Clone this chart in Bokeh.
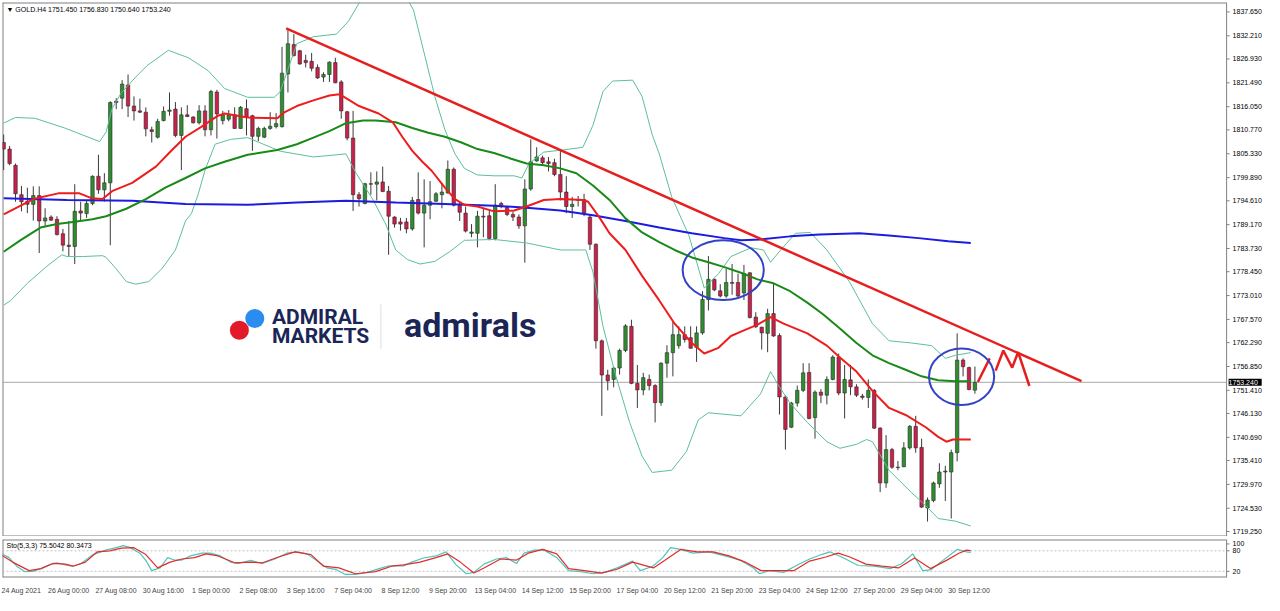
from bokeh.plotting import figure
from bokeh.layouts import column
from bokeh.models import Range1d, FixedTicker, Label, ColumnDataSource
from bokeh.core.properties import value
from bokeh.embed import file_html
from bokeh.resources import INLINE

symbol = "GOLD.H4"

opens = [1807.9, 1806.4, 1802.7, 1796.0, 1794.5, 1793.8, 1795.8, 1790.0, 1790.9, 1790.4,
         1787.1, 1784.5, 1784.2, 1792.3, 1791.7, 1794.0, 1800.2, 1797.1, 1798.7, 1817.3,
         1818.0, 1821.0, 1816.2, 1815.1, 1814.8, 1810.8, 1809.1, 1812.9, 1815.0, 1815.5,
         1809.5, 1814.2, 1813.7, 1812.4, 1815.1, 1810.8, 1819.4, 1812.9, 1813.2, 1814.2,
         1811.1, 1815.6, 1814.0, 1809.3, 1809.1, 1811.1, 1811.5, 1811.5, 1823.5, 1830.2,
         1828.8, 1826.6, 1826.4, 1825.0, 1822.8, 1823.4, 1826.1, 1821.7, 1814.9, 1808.9,
         1796.0, 1794.0, 1798.5, 1798.4, 1798.9, 1796.8, 1790.9, 1789.8, 1789.8, 1788.2,
         1794.9, 1791.8, 1793.6, 1794.5, 1796.0, 1796.4, 1801.8, 1793.6, 1791.8, 1787.2,
         1787.2, 1791.1, 1791.2, 1786.0, 1794.0, 1793.1, 1791.5, 1790.9, 1788.9, 1797.3,
         1803.7, 1804.4, 1803.5, 1803.3, 1800.6, 1796.6, 1793.3, 1794.7, 1794.9, 1790.9,
         1784.7, 1762.7, 1754.9, 1753.9, 1756.5, 1760.5, 1766.0, 1753.0, 1751.5, 1753.9,
         1752.5, 1748.6, 1757.6, 1760.0, 1761.6, 1764.1, 1763.4, 1761.2, 1764.5, 1772.1,
         1776.7, 1774.1, 1772.9, 1776.0, 1776.0, 1773.6, 1778.2, 1768.1, 1765.8, 1764.4,
         1768.9, 1763.9, 1749.9, 1743.0, 1748.5, 1751.4, 1755.5, 1745.2, 1751.0, 1750.3,
         1753.9, 1759.0, 1750.8, 1753.8, 1752.2, 1750.1, 1749.8, 1751.4, 1742.8, 1730.3,
         1737.9, 1733.9, 1734.0, 1738.3, 1743.2, 1738.4, 1724.6, 1726.3, 1730.1, 1732.8,
         1732.8, 1737.2, 1758.3, 1756.6, 1751.45]
highs = [1809.7, 1807.1, 1803.1, 1798.0, 1797.6, 1797.9, 1797.9, 1792.9, 1791.3, 1791.1,
         1788.2, 1790.0, 1798.4, 1794.4, 1794.7, 1800.4, 1805.1, 1800.9, 1817.3, 1818.0,
         1822.1, 1823.4, 1818.4, 1817.9, 1815.9, 1811.5, 1813.3, 1816.1, 1819.3, 1817.1,
         1815.9, 1816.4, 1813.9, 1816.4, 1816.4, 1819.9, 1819.9, 1815.1, 1815.3, 1815.9,
         1816.2, 1817.7, 1814.2, 1811.5, 1811.5, 1814.8, 1814.6, 1829.7, 1833.7, 1832.6,
         1829.0, 1827.9, 1828.3, 1825.7, 1823.9, 1826.4, 1827.2, 1822.1, 1815.1, 1815.1,
         1796.6, 1798.7, 1801.1, 1801.3, 1802.4, 1798.0, 1791.1, 1790.7, 1790.7, 1795.5,
         1801.1, 1799.5, 1799.1, 1796.6, 1798.7, 1803.8, 1802.2, 1794.4, 1793.3, 1789.3,
         1792.3, 1792.9, 1792.3, 1798.4, 1794.4, 1793.5, 1792.2, 1791.5, 1799.5, 1808.6,
         1806.8, 1804.9, 1804.6, 1804.2, 1806.4, 1800.2, 1795.5, 1795.7, 1796.2, 1791.5,
         1784.9, 1763.0, 1756.1, 1756.8, 1760.9, 1766.5, 1767.5, 1757.2, 1755.4, 1755.0,
         1752.8, 1757.8, 1761.7, 1767.0, 1766.0, 1766.0, 1766.0, 1766.0, 1774.0, 1782.0,
         1776.9, 1775.6, 1779.1, 1780.2, 1778.0, 1780.0, 1778.3, 1769.2, 1765.9, 1770.0,
         1775.8, 1764.4, 1750.3, 1748.8, 1752.5, 1757.6, 1757.6, 1751.4, 1751.7, 1754.6,
         1759.4, 1759.8, 1757.2, 1757.2, 1752.8, 1750.6, 1753.9, 1751.7, 1743.0, 1741.2,
         1738.3, 1735.3, 1739.6, 1743.5, 1745.6, 1740.4, 1727.0, 1730.6, 1734.8, 1734.2,
         1737.9, 1764.4, 1758.7, 1756.8, 1756.83]
lows = [1801.6, 1802.7, 1794.4, 1792.2, 1791.8, 1790.1, 1782.7, 1788.9, 1790.0, 1786.7,
        1783.1, 1782.0, 1780.2, 1790.0, 1790.7, 1793.6, 1796.2, 1794.4, 1784.5, 1815.5,
        1815.5, 1813.7, 1812.9, 1814.6, 1809.3, 1807.9, 1808.8, 1812.7, 1814.0, 1809.1,
        1801.6, 1813.7, 1812.2, 1812.0, 1809.3, 1809.5, 1808.8, 1812.0, 1812.7, 1811.0,
        1811.0, 1809.5, 1806.0, 1808.2, 1808.9, 1810.8, 1811.1, 1811.3, 1819.3, 1827.5,
        1825.6, 1825.0, 1824.1, 1822.4, 1821.7, 1821.7, 1821.4, 1813.3, 1808.4, 1792.3,
        1793.3, 1793.8, 1796.0, 1794.7, 1796.6, 1782.3, 1788.5, 1787.8, 1787.2, 1787.8,
        1791.5, 1784.0, 1790.4, 1794.4, 1792.9, 1796.2, 1793.3, 1790.0, 1787.4, 1786.3,
        1784.0, 1786.3, 1785.6, 1785.6, 1792.9, 1791.1, 1790.0, 1788.2, 1780.5, 1796.9,
        1803.5, 1802.7, 1801.3, 1800.2, 1794.7, 1791.8, 1790.7, 1793.3, 1791.1, 1783.4,
        1760.9, 1745.6, 1751.4, 1752.1, 1755.0, 1760.1, 1752.8, 1747.4, 1750.3, 1751.4,
        1744.1, 1747.9, 1754.3, 1754.6, 1760.9, 1762.3, 1760.9, 1757.9, 1764.1, 1769.6,
        1774.0, 1772.6, 1772.5, 1773.2, 1772.5, 1772.0, 1767.8, 1765.6, 1760.7, 1760.1,
        1763.6, 1745.9, 1737.9, 1742.8, 1747.7, 1751.0, 1744.8, 1740.4, 1748.5, 1748.2,
        1753.7, 1750.3, 1745.0, 1750.3, 1749.9, 1749.3, 1747.4, 1742.6, 1728.2, 1729.2,
        1733.5, 1733.2, 1733.9, 1737.9, 1737.2, 1724.6, 1721.5, 1725.9, 1729.2, 1726.2,
        1722.2, 1735.2, 1754.6, 1751.4, 1750.64]
closes = [1806.4, 1803.1, 1796.2, 1794.4, 1793.8, 1795.8, 1790.0, 1790.7, 1790.2, 1786.9,
          1784.5, 1784.2, 1792.2, 1791.8, 1794.0, 1800.2, 1797.1, 1798.7, 1817.0, 1817.0,
          1821.2, 1816.2, 1815.1, 1814.8, 1811.0, 1810.4, 1812.7, 1815.0, 1815.3, 1809.5,
          1814.2, 1813.8, 1812.4, 1815.1, 1810.8, 1819.5, 1814.4, 1814.2, 1814.2, 1811.1,
          1815.9, 1813.7, 1809.3, 1811.1, 1811.1, 1811.6, 1812.2, 1823.7, 1830.4, 1827.7,
          1825.8, 1826.1, 1824.8, 1822.6, 1823.4, 1826.2, 1821.5, 1815.1, 1808.9, 1796.0,
          1795.1, 1798.5, 1798.4, 1798.9, 1796.7, 1791.1, 1789.3, 1789.3, 1788.2, 1794.7,
          1791.8, 1793.6, 1794.4, 1796.2, 1796.6, 1801.8, 1793.6, 1792.0, 1787.7, 1787.5,
          1791.1, 1790.9, 1786.0, 1793.6, 1793.3, 1791.5, 1790.9, 1788.9, 1797.3, 1803.5,
          1804.6, 1803.3, 1803.1, 1800.6, 1796.6, 1793.3, 1793.8, 1794.9, 1791.8, 1784.7,
          1762.7, 1754.9, 1753.6, 1756.5, 1760.5, 1766.1, 1753.0, 1751.5, 1754.3, 1752.5,
          1748.6, 1757.6, 1760.0, 1764.1, 1764.1, 1763.0, 1761.0, 1764.5, 1772.1, 1776.7,
          1774.3, 1772.9, 1776.0, 1775.8, 1772.9, 1778.0, 1768.0, 1765.9, 1764.5, 1768.9,
          1763.8, 1749.9, 1742.5, 1748.5, 1751.4, 1755.4, 1745.0, 1751.0, 1750.3, 1753.9,
          1759.0, 1750.8, 1753.9, 1752.2, 1750.3, 1749.8, 1751.4, 1742.8, 1730.3, 1737.9,
          1733.9, 1733.8, 1738.3, 1743.2, 1738.3, 1724.8, 1726.4, 1730.3, 1732.8, 1733.0,
          1737.2, 1758.3, 1756.8, 1751.6, 1753.24]

x_tick_labels = ["24 Aug 2021", "26 Aug 00:00", "27 Aug 08:00", "30 Aug 16:00", "1 Sep 00:00",
                 "2 Sep 08:00", "3 Sep 16:00", "7 Sep 04:00", "8 Sep 12:00", "9 Sep 20:00",
                 "13 Sep 04:00", "14 Sep 12:00", "15 Sep 20:00", "17 Sep 04:00", "20 Sep 12:00",
                 "21 Sep 20:00", "23 Sep 04:00", "24 Sep 12:00", "27 Sep 20:00", "29 Sep 04:00",
                 "30 Sep 12:00"]
y_tick_values = [1837.650, 1832.210, 1826.930, 1821.490, 1816.050, 1810.770, 1805.330, 1799.890,
                 1794.610, 1789.170, 1783.730, 1778.450, 1773.010, 1767.570, 1762.290, 1756.850,
                 1751.410, 1746.130, 1740.690, 1735.410, 1729.970, 1724.530, 1719.250]
sto_tick_values = [100, 80, 20]

# moving averages (bar position, price)
ma_fast_x = [0, 5.0, 9.2, 12.8, 14.8, 16.7, 18.3, 21.7, 25.7, 28.3, 30.7, 33.3, 36.2, 37.3, 41.2,
             46.2, 47.3, 49.5, 52.3, 55.0, 56.7, 57.8, 60.0, 63.3, 65.7, 67.3, 69.0, 70.7, 72.3, 74.5,
             76.2, 77.8, 80.0, 82.8, 86.2, 88.3, 91.2, 94.0, 97.8, 98.7, 100.7, 102.3, 105.0, 107.8,
             110.7, 113.3, 116.2, 118.3, 120.7, 122.8, 124.5, 127.3, 129.5, 131.7, 135.7, 139.0,
             141.2, 144.0, 146.7, 149.5, 152.3, 155.7, 157.8, 159.2, 160.3, 163.3]
ma_fast_y = [1791.5, 1795.0, 1796.3, 1796.3, 1795.2, 1795.0, 1796.8, 1798.7, 1802.4, 1806.0,
             1809.2, 1811.4, 1814.0, 1814.5, 1813.6, 1813.4, 1814.7, 1816.2, 1817.5, 1818.6,
             1818.9, 1818.0, 1816.2, 1814.5, 1812.5, 1809.2, 1806.0, 1803.5, 1801.4, 1797.6,
             1795.0, 1793.7, 1793.3, 1792.2, 1792.4, 1793.3, 1794.8, 1795.0, 1794.8, 1794.4,
             1790.6, 1787.2, 1783.4, 1777.5, 1771.9, 1766.6, 1762.2, 1759.8, 1761.1, 1763.8,
             1764.8, 1766.4, 1768.1, 1766.6, 1764.4, 1761.6, 1758.9, 1755.7, 1751.3, 1747.4,
             1745.8, 1743.0, 1740.8, 1739.7, 1740.2, 1740.2]
ma_mid_x = [0, 2.8, 6.2, 9.0, 11.7, 15.0, 17.3, 20.7, 24.0, 27.3, 30.7, 34.0, 37.3, 41.2, 46.2,
            49.5, 52.3, 55.0, 57.8, 60.7, 62.8, 66.2, 69.0, 71.7, 74.5, 77.3, 80.0, 82.8, 85.7,
            88.3, 91.2, 94.0, 96.7, 99.5, 102.3, 105.0, 107.8, 110.7, 113.3, 116.2, 119.0, 121.7,
            124.5, 127.3, 130.0, 132.8, 135.7, 138.3, 141.2, 144.0, 146.7, 149.5, 152.3, 155.0,
            157.8, 160.7, 163.3]
ma_mid_y = [1783.0, 1785.6, 1788.5, 1789.3, 1789.8, 1790.4, 1791.1, 1792.8, 1795.0, 1797.6,
            1799.8, 1802.0, 1803.5, 1805.1, 1806.2, 1807.5, 1809.0, 1810.5, 1812.3, 1812.9,
            1812.9, 1812.5, 1811.2, 1810.1, 1809.2, 1807.9, 1806.4, 1805.5, 1804.2, 1803.1,
            1802.7, 1802.0, 1800.9, 1798.1, 1794.8, 1790.6, 1787.4, 1785.2, 1783.4, 1781.7,
            1780.6, 1779.5, 1778.2, 1776.7, 1775.8, 1774.0, 1771.4, 1768.8, 1765.5, 1762.2,
            1759.4, 1757.6, 1756.1, 1754.6, 1753.7, 1753.5, 1753.5]
ma_slow_x = [0, 10.7, 21.7, 30.7, 41.2, 49.5, 57.8, 66.2, 74.5, 82.8, 88.3, 94.0, 99.5, 105.0,
             110.7, 116.2, 121.7, 124.5, 127.8, 132.8, 137.8, 144.5, 149.5, 154.5, 159.5, 163.3]
ma_slow_y = [1795.2, 1794.8, 1794.6, 1793.9, 1793.7, 1794.2, 1794.6, 1794.2, 1793.9, 1793.5,
             1793.0, 1792.4, 1791.3, 1790.0, 1788.5, 1787.2, 1786.1, 1785.6, 1785.8, 1786.5,
             1786.9, 1787.2, 1786.7, 1786.1, 1785.4, 1785.0]

# Bollinger bands
bb_upper_x = [0, 2.0, 5.3, 10.3, 16.2, 17.3, 18.3, 19.8, 22.3, 24.2, 27.8, 31.2, 34.5, 37.3, 41.2,
              45.7, 46.7, 49.5, 52.3, 56.2, 58.2, 60.3, 62.8, 65.3, 67.8, 69.2, 71.2, 72.8, 74.5,
              76.2, 77.8, 80.0, 82.8, 86.2, 87.5, 88.7, 91.2, 94.5, 97.8, 99.5, 101.2, 102.8, 106.2,
              107.8, 109.5, 110.7, 112.8, 115.7, 118.3, 120.7, 122.8, 126.2, 128.3, 129.5, 131.2,
              133.7, 136.2, 139.0, 142.8, 146.7, 149.5, 153.3, 156.7, 159.0, 160.7, 163.3]
bb_upper_y = [1812.3, 1813.6, 1813.4, 1811.2, 1808.1, 1810.3, 1815.6, 1819.1, 1822.8, 1825.4,
              1828.9, 1827.2, 1824.3, 1820.2, 1818.2, 1818.2, 1819.5, 1830.4, 1832.0, 1832.6,
              1835.5, 1840.3, 1842.9, 1843.6, 1841.4, 1838.1, 1827.2, 1818.4, 1810.8, 1805.3,
              1802.0, 1800.5, 1800.3, 1800.3, 1799.8, 1803.1, 1805.7, 1806.2, 1806.8, 1811.8,
              1819.5, 1821.9, 1822.1, 1818.4, 1809.7, 1805.3, 1795.5, 1786.7, 1774.7, 1778.0,
              1781.9, 1783.9, 1783.4, 1780.6, 1783.4, 1787.2, 1787.4, 1783.4, 1776.2, 1766.6,
              1762.7, 1762.2, 1761.6, 1758.7, 1759.4, 1760.0]
bb_lower_x = [0, 1.2, 4.0, 7.3, 9.8, 10.7, 13.3, 16.7, 17.3, 19.0, 20.7, 22.3, 24.5, 26.7, 29.0,
              30.7, 31.7, 32.8, 34.0, 35.7, 38.3, 41.2, 46.7, 52.3, 57.8, 59.5, 62.3, 64.5, 66.2,
              68.2, 70.3, 72.8, 75.3, 77.8, 82.8, 88.3, 94.0, 98.3, 99.5, 101.2, 103.3, 105.7,
              107.8, 109.5, 112.8, 115.3, 117.3, 119.0, 124.5, 127.8, 129.5, 130.7, 132.8, 135.7,
              139.0, 141.2, 144.0, 145.7, 146.7, 149.5, 153.3, 155.7, 157.8, 160.7, 163.3]
bb_lower_y = [1770.8, 1771.9, 1775.8, 1779.7, 1782.3, 1781.9, 1781.9, 1782.1, 1781.7, 1779.1,
              1776.2, 1775.6, 1776.2, 1779.1, 1783.4, 1790.0, 1791.7, 1795.9, 1801.6, 1807.5,
              1808.6, 1809.0, 1805.9, 1804.6, 1805.3, 1800.9, 1795.0, 1789.3, 1783.4, 1781.2,
              1780.2, 1780.8, 1783.0, 1785.6, 1785.8, 1785.0, 1783.4, 1783.4, 1778.4, 1766.0,
              1755.0, 1744.1, 1736.4, 1732.7, 1733.2, 1737.5, 1744.7, 1746.3, 1745.6, 1750.6,
              1755.7, 1752.8, 1748.5, 1744.1, 1739.7, 1738.2, 1739.1, 1740.2, 1739.7, 1733.2,
              1728.1, 1725.1, 1722.2, 1721.6, 1720.5]

# stochastic (5,3,3)
sto_k_x = [-0.5, 0.9, 2.2, 3.6, 4.9, 6.3, 7.7, 9.0, 10.4, 11.7, 13.1, 15.1, 17.2, 19.2, 20.2,
           21.3, 23.0, 24.0, 25.0, 26.4, 27.7, 28.8, 30.1, 31.5, 33.5, 34.9, 36.6, 38.3, 39.6,
           41.7, 43.7, 45.8, 47.8, 49.5, 51.2, 53.2, 54.6, 56.0, 57.7, 59.4, 61.4, 63.4, 65.1,
           67.5, 68.9, 70.9, 73.0, 74.7, 76.4, 78.1, 79.4, 81.1, 83.2, 84.9, 86.6, 87.9, 89.6,
           91.3, 93.4, 95.4, 97.5, 99.5, 101.5, 103.6, 106.2, 107.5, 109.6, 111.3, 112.6, 114.3,
           116.4, 119.1, 121.8, 124.5, 126.6, 127.6, 129.3, 131.7, 134.1, 136.1, 138.1, 139.5,
           141.5, 144.3, 147.0, 149.7, 151.7, 153.5, 155.2, 156.5, 158.6, 161.0, 162.6, 163.3]
sto_k_y = [73, 60, 35, 19, 20, 28, 39, 45, 39, 35, 43, 69, 82, 90, 95, 90, 73, 52, 22, 30,
           60, 53, 53, 65, 73, 73, 65, 47, 43, 52, 43, 56, 73, 77, 71, 47, 30, 26, 11, 11,
           17, 28, 36, 36, 47, 59, 65, 77, 39, 13, 17, 41, 56, 60, 43, 73, 82, 82, 60, 22,
           19, 13, 17, 30, 50, 22, 35, 60, 89, 84, 73, 77, 65, 52, 30, 13, 22, 17, 39, 56,
           69, 77, 62, 37, 35, 28, 43, 71, 22, 24, 52, 84, 77, 75.5042]
sto_d_x = [-0.5, 1.5, 4.3, 6.3, 8.3, 10.4, 11.7, 13.8, 15.8, 17.9, 19.9, 22.0, 24.0, 26.0, 28.1,
           30.1, 32.2, 34.2, 36.2, 39.0, 41.7, 43.7, 46.4, 49.2, 51.9, 54.0, 56.6, 59.4, 62.8,
           65.5, 67.5, 70.3, 73.0, 75.0, 77.1, 79.4, 81.1, 83.9, 86.6, 88.6, 91.0, 93.4, 95.4,
           98.1, 100.9, 103.6, 106.2, 109.7, 111.6, 114.3, 117.1, 119.8, 122.5, 125.2, 127.9,
           130.6, 133.4, 136.1, 138.8, 140.9, 142.9, 145.6, 148.3, 151.1, 153.8, 156.5, 159.2,
           161.3, 162.6, 163.3]
sto_d_y = [69, 47, 22, 28, 43, 41, 35, 47, 77, 80, 88, 89, 69, 30, 47, 56, 60, 71, 65, 45,
           47, 45, 62, 77, 69, 35, 30, 13, 19, 35, 39, 47, 60, 71, 47, 15, 30, 56, 53, 73,
           84, 71, 28, 22, 15, 26, 47, 30, 52, 84, 77, 77, 65, 47, 22, 22, 22, 50, 62, 73,
           62, 41, 35, 30, 59, 28, 52, 73, 82, 80.3473]
sto_levels = [80, 20]

# drawn objects
trend_x = [47.7, 182.0]
trend_y = [1833.9, 1753.5]
zig1_x = [164.5, 166.5]
zig1_y = [1753.3, 1758.7]
zig2_x = [167.5, 168.8, 170.3, 171.3, 173.2]
zig2_y = [1755.9, 1760.5, 1756.6, 1760.1, 1752.4]
ellipse_x = [121.5, 161.75]
ellipse_y = [1778.8, 1754.5]
ellipse_w = [13.7, 11.0]
ellipse_h = [13.6, 12.9]

FONT = "Liberation Sans"
GRID = "#808080"
n = len(opens)
idx = list(range(n))
up = [c >= o for o, c in zip(opens, closes)]
src = ColumnDataSource(dict(
    x=idx, o=opens, h=highs, l=lows, c=closes,
    top=[max(o, c) for o, c in zip(opens, closes)],
    bottom=[min(o, c) for o, c in zip(opens, closes)],
    color=["#2f8f2f" if u else "#cc1f4a" for u in up],
))

# price scale sits inside the frame, right of the chart area (MT4 style)
X0, AXIS_X, X1 = -0.2, 206.5, 212.9
xr = Range1d(X0, X1)
yr = Range1d(1718.1, 1839.8)
p = figure(frame_width=1262, frame_height=534, x_range=xr, y_range=yr,
           y_axis_location=None, x_axis_location=None, output_backend="svg",
           toolbar_location=None, min_border_left=2, min_border_top=2, min_border_bottom=0,
           min_border_right=0, background_fill_color="white", border_fill_color="white")
p.grid.visible = False
p.outline_line_color = None

# chart border + price axis line
p.segment(x0=[X0, X0], y0=[yr.end, yr.start], x1=[AXIS_X, AXIS_X], y1=[yr.end, yr.start],
          line_color=GRID, line_width=2)
p.segment(x0=[X0, AXIS_X], y0=[yr.start, yr.start], x1=[X0, AXIS_X], y1=[yr.end, yr.end],
          line_color=GRID, line_width=[2, 1])
p.ray(x=[AXIS_X] * len(y_tick_values), y=y_tick_values, length=3, length_units="screen",
      angle=0, line_color=GRID, line_width=1)
p.text(x=[AXIS_X] * len(y_tick_values), y=y_tick_values,
       text=[f"{v:.3f}" for v in y_tick_values], x_offset=6, text_baseline="middle",
       text_font=value(FONT), text_font_size="7px", text_color="#000000")

# logo watermark
p.scatter([39.8], [1765.1], size=19, fill_color="#e21a2a", line_color=None)
p.scatter([42.4], [1767.8], size=19, fill_color="#2b8cf0", line_color=None)
navy = "#1b2657"
p.add_layout(Label(x=45.3, y=1768.1, text="ADMIRAL", text_font="Roboto", text_font_style="bold",
                   text_font_size="21px", text_color=navy, text_baseline="middle"))
p.add_layout(Label(x=45.3, y=1763.9, text="MARKETS", text_font="Roboto", text_font_style="bold",
                   text_font_size="21px", text_color=navy, text_baseline="middle"))
p.segment(x0=[63.7], y0=[1760.9], x1=[63.7], y1=[1771.0], line_color="#dddddd", line_width=1)
p.add_layout(Label(x=67.6, y=1766.2, text="admirals", text_font="Roboto", text_font_style="bold",
                   text_font_size="34px", text_color=navy, text_baseline="middle"))

# current price line
p.segment(x0=[X0], y0=[closes[-1]], x1=[AXIS_X], y1=[closes[-1]], line_color="#a8a8a8",
          line_width=1)

# candles
p.segment(x0="x", y0="l", x1="x", y1="h", source=src, line_color="#3a3a3a", line_width=1)
p.vbar(x="x", width=0.58, top="top", bottom="bottom", fill_color="color",
       line_color="#2a2a2a", line_width=0.6, source=src)

# indicators
p.line(bb_upper_x, bb_upper_y, line_color="#5cbf9c", line_width=1)
p.line(bb_lower_x, bb_lower_y, line_color="#5cbf9c", line_width=1)
p.line(ma_slow_x, ma_slow_y, line_color="#1c1ce0", line_width=2)
p.line(ma_mid_x, ma_mid_y, line_color="#178a17", line_width=2)
p.line(ma_fast_x, ma_fast_y, line_color="#ee1c1c", line_width=2)

# drawings
p.line(trend_x, trend_y, line_color="#e61e1e", line_width=2.5)
p.line(zig1_x, zig1_y, line_color="#e61e1e", line_width=2.5)
p.line(zig2_x, zig2_y, line_color="#e61e1e", line_width=2.5)
p.ellipse(x=ellipse_x, y=ellipse_y, width=ellipse_w, height=ellipse_h, fill_color=None,
          line_color="#3442c4", line_width=2)

header = f"\u25BC  {symbol}  {opens[-1]:.3f} {highs[-1]:.3f} {lows[-1]:.3f} {closes[-1]:.3f}"
p.add_layout(Label(x=X0, y=yr.end, x_offset=4, y_offset=-3, text=header, text_font=FONT,
                   text_font_size="7px", text_color="#000000", text_baseline="top"))
p.add_layout(Label(x=AXIS_X, y=closes[-1], x_offset=2, text=f" {closes[-1]:.3f} ", text_font=FONT,
                   text_font_size="7px", text_color="white", background_fill_color="black",
                   text_baseline="middle", text_align="left"))

# stochastic panel
sr = Range1d(2, 113)
s = figure(frame_width=1262, frame_height=38, x_range=xr, y_range=sr,
           y_axis_location=None, output_backend="svg", toolbar_location=None,
           min_border_left=2, min_border_top=3, min_border_bottom=2, min_border_right=0,
           background_fill_color="white", border_fill_color="white")
s.grid.visible = False
s.outline_line_color = None
s.segment(x0=[X0, X0], y0=[sr.end, sr.start], x1=[AXIS_X, AXIS_X], y1=[sr.end, sr.start],
          line_color=GRID, line_width=2)
s.segment(x0=[X0, AXIS_X], y0=[sr.start, sr.start], x1=[X0, AXIS_X], y1=[sr.end, sr.end],
          line_color=GRID, line_width=[2, 1])
s.segment(x0=[X0] * len(sto_levels), y0=sto_levels, x1=[AXIS_X] * len(sto_levels),
          y1=sto_levels, line_color="#c0c0c0", line_width=1, line_dash="2 2")
s.ray(x=[AXIS_X] * len(sto_tick_values), y=sto_tick_values, length=3, length_units="screen",
      angle=0, line_color=GRID, line_width=1)
s.text(x=[AXIS_X] * len(sto_tick_values), y=sto_tick_values,
       text=[str(v) for v in sto_tick_values], x_offset=6, text_baseline="middle",
       text_font=value(FONT), text_font_size="7px", text_color="#000000")
s.line(sto_k_x, sto_k_y, line_color="#4cc6bc", line_width=1.2)
s.line(sto_d_x, sto_d_y, line_color="#e52a2a", line_width=1.2)
s.add_layout(Label(x=X0, y=sr.end, x_offset=4, y_offset=-2,
                   text=f"Sto(5,3,3) {sto_k_y[-1]:.4f} {sto_d_y[-1]:.4f}", text_font=FONT,
                   text_font_size="7px", text_color="#000000", text_baseline="top"))

tick_pos = [8 * i + 3 for i in range(len(x_tick_labels))]
s.xaxis.ticker = FixedTicker(ticks=tick_pos)
s.xaxis.major_label_overrides = {t: lab for t, lab in zip(tick_pos, x_tick_labels)}
s.xaxis.major_label_text_font_size = "7px"
s.xaxis.major_label_text_font = FONT
s.xaxis.major_tick_line_color = None
s.xaxis.minor_tick_line_color = None
s.xaxis.axis_line_color = None
s.xaxis.major_label_standoff = 3

layout = column(p, s, spacing=0)
open("out.html", "w").write(file_html(layout, INLINE))
